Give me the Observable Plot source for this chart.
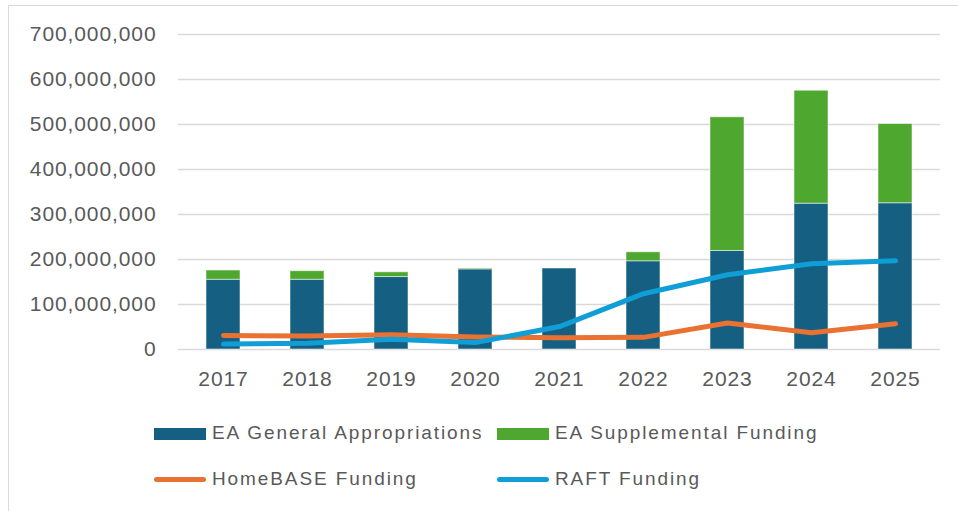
<!DOCTYPE html>
<html>
<head>
<meta charset="utf-8">
<script src="https://cdn.jsdelivr.net/npm/d3@7"></script>
<script src="https://cdn.jsdelivr.net/npm/@observablehq/plot@0.6"></script>
<style>
  html, body { margin: 0; padding: 0; background: #fff; }
  #frame { position: absolute; left: 8px; top: 5px; width: 960px; height: 520px; border: 1px solid #d9d9d9; box-sizing: border-box; }
  #chart { position: absolute; left: 0; top: 0; }
  #chart svg text { letter-spacing: 0.9px; }
  .leg { position: absolute; font-family: "Liberation Sans", Arial, sans-serif; font-size: 19px; letter-spacing: 1.9px; color: #595959; white-space: nowrap; line-height: 24px; }
  .sw { position: absolute; }
</style>
</head>
<body>
<div id="frame">
  <div id="chart"></div>
  <div id="legend"></div>
</div>
<script>
const years = ["2017","2018","2019","2020","2021","2022","2023","2024","2025"];
const general = [155e6, 155e6, 161e6, 178e6, 180e6, 196e6, 219e6, 324e6, 325e6];
const supplemental = [20.5e6, 19e6, 10.5e6, 2e6, 0, 20e6, 297e6, 251e6, 176e6];
const homebase = [31e6, 30e6, 33e6, 28e6, 26e6, 27e6, 59e6, 37e6, 57e6];
const raft = [12e6, 14e6, 23e6, 15.5e6, 51e6, 124e6, 166e6, 190.5e6, 197e6];
const yTicks = [0, 100e6, 200e6, 300e6, 400e6, 500e6, 600e6, 700e6];

const colors = {
  "EA General Appropriations": "#156082",
  "EA Supplemental Funding": "#4EA72E",
  "HomeBASE Funding": "#E97132",
  "RAFT Funding": "#0F9ED5"
};

const bars = [];
years.forEach((y, i) => {
  bars.push({year: y, series: "EA General Appropriations", value: general[i]});
  bars.push({year: y, series: "EA Supplemental Funding", value: supplemental[i]});
});
const hb = years.map((y, i) => ({year: y, value: homebase[i]}));
const rf = years.map((y, i) => ({year: y, value: raft[i]}));

const chart = Plot.plot({
  width: 958,
  height: 383,
  marginLeft: 169,
  marginRight: 27,
  marginTop: 28,
  marginBottom: 40,
  style: {fontFamily: "'Liberation Sans', Arial, sans-serif", fontSize: "21px", color: "#595959", background: "transparent"},
  x: {domain: years, paddingInner: 0.6, paddingOuter: 0.3, label: null, tickSize: 0, tickPadding: 22},
  y: {domain: [0, 700e6], label: null, ticks: yTicks, tickSize: 0, tickPadding: 22, tickFormat: d3.format(",")},
  color: {domain: Object.keys(colors), range: Object.values(colors)},
  marks: [
    Plot.gridY(yTicks, {stroke: "#d9d9d9", strokeOpacity: 1, strokeWidth: 1.5}),
    Plot.barY(bars, Plot.stackY({x: "year", y: "value", fill: "series", stroke: "#ffffff", strokeOpacity: 0.5, strokeWidth: 1, order: null})),
    Plot.line(hb, {x: "year", y: "value", stroke: colors["HomeBASE Funding"], strokeWidth: 5, strokeLinecap: "round", strokeLinejoin: "round"}),
    Plot.line(rf, {x: "year", y: "value", stroke: colors["RAFT Funding"], strokeWidth: 5, strokeLinecap: "round", strokeLinejoin: "round"})
  ]
});
document.getElementById("chart").appendChild(chart);

const legendItems = [
  {name: "EA General Appropriations", type: "rect", x: 145, y: 427},
  {name: "EA Supplemental Funding", type: "rect", x: 488, y: 427},
  {name: "HomeBASE Funding", type: "line", x: 145, y: 473},
  {name: "RAFT Funding", type: "line", x: 488, y: 473}
];
const leg = document.getElementById("legend");
legendItems.forEach(it => {
  const sw = document.createElement("div");
  sw.className = "sw";
  if (it.type === "rect") {
    Object.assign(sw.style, {left: it.x + "px", top: (it.y - 5) + "px", width: "52px", height: "12px", background: colors[it.name]});
  } else {
    Object.assign(sw.style, {left: it.x + "px", top: (it.y - 2) + "px", width: "52px", height: "5px", borderRadius: "3px", background: colors[it.name]});
  }
  leg.appendChild(sw);
  const t = document.createElement("div");
  t.className = "leg";
  t.textContent = it.name;
  Object.assign(t.style, {left: (it.x + 58) + "px", top: (it.y - 12) + "px"});
  leg.appendChild(t);
});
</script>
</body>
</html>
